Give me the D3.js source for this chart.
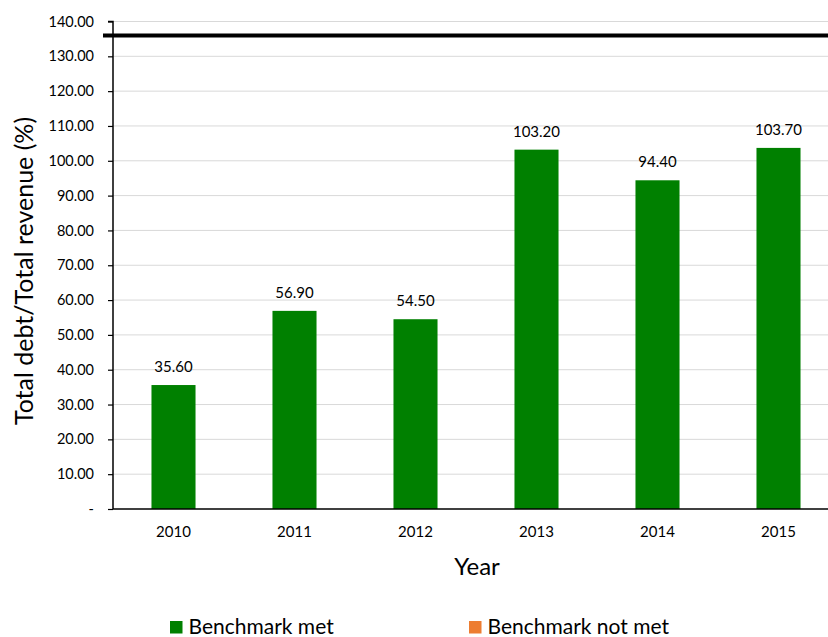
<!DOCTYPE html>
<html>
<head>
<meta charset="utf-8">
<script src="https://cdn.jsdelivr.net/npm/d3@7"></script>
<style>
  body { margin: 0; background: #fff; }
  svg { display: block; font-family: Lato, "Open Sans", sans-serif; }
</style>
</head>
<body>
<svg id="chart" width="828" height="637"></svg>
<script>
// Debt ratio by year
const years = ["2010", "2011", "2012", "2013", "2014", "2015"];
const ratios = [35.6, 56.9, 54.5, 103.2, 94.4, 103.7];
const benchmark = 136;
const yTicks = [0, 10, 20, 30, 40, 50, 60, 70, 80, 90, 100, 110, 120, 130, 140];
const legendItems = ["Benchmark met", "Benchmark not met"];
const legendColors = ["#008000", "#ED7D31"];

const svg = d3.select("#chart");
const plotLeft = 113, plotRight = 839, plotTop = 21.5, plotBottom = 509;

const x = d3.scaleBand().domain(years).range([plotLeft, plotRight]).paddingInner(0.636).paddingOuter(0.318);
const y = d3.scaleLinear().domain([0, 140]).range([plotBottom, plotTop]);

// gridlines
svg.append("g")
  .selectAll("line")
  .data(yTicks.filter(d => d > 0))
  .join("line")
  .attr("x1", plotLeft).attr("x2", 828)
  .attr("y1", d => y(d)).attr("y2", d => y(d))
  .attr("stroke", "#d9d9d9").attr("stroke-width", 1);

// bars
svg.append("g")
  .selectAll("rect")
  .data(years)
  .join("rect")
  .attr("x", d => x(d))
  .attr("width", x.bandwidth())
  .attr("y", (d, i) => y(ratios[i]))
  .attr("height", (d, i) => y(0) - y(ratios[i]))
  .attr("fill", "#008000");

// value labels
svg.append("g")
  .selectAll("text")
  .data(years)
  .join("text")
  .attr("x", d => x(d) + x.bandwidth() / 2)
  .attr("y", (d, i) => y(ratios[i]) - 13)
  .attr("text-anchor", "middle")
  .attr("font-size", 15)
  .attr("fill", "#000")
  .text((d, i) => ratios[i].toFixed(2));

// y axis
const yAxis = d3.axisLeft(y).tickValues(yTicks).tickSize(5).tickPadding(14)
  .tickFormat(d => d === 0 ? "-" : d.toFixed(2));
const gy = svg.append("g").attr("transform", `translate(${plotLeft},0)`).call(yAxis);
gy.select(".domain").attr("stroke", "#000").attr("stroke-width", 1.5).attr("d", `M-5,${plotTop}H0V${plotBottom}`);
gy.selectAll(".tick line").attr("stroke", "#000").attr("stroke-width", 1.2);
gy.selectAll(".tick text").attr("font-size", 14.5).attr("fill", "#000").attr("font-family", "Lato, sans-serif");

// x axis
const xAxis = d3.axisBottom(x).tickSize(0).tickPadding(17);
const gx = svg.append("g").attr("transform", `translate(0,${plotBottom})`).call(xAxis);
gx.select(".domain").attr("stroke", "#000").attr("stroke-width", 1.5).attr("d", `M${plotLeft},0H828`);
gx.selectAll(".tick text").attr("font-size", 15).attr("fill", "#000").attr("font-family", "Lato, sans-serif");

// benchmark line
svg.append("line")
  .attr("x1", 103).attr("x2", 828)
  .attr("y1", y(benchmark)).attr("y2", y(benchmark))
  .attr("stroke", "#000").attr("stroke-width", 4);

// axis titles
svg.append("text")
  .attr("transform", "translate(33,271) rotate(-90)")
  .attr("text-anchor", "middle")
  .attr("font-size", 25)
  .text("Total debt/Total revenue (%)");

svg.append("text")
  .attr("x", 477).attr("y", 575)
  .attr("text-anchor", "middle")
  .attr("font-size", 24)
  .text("Year");

// legend
const legendX = [170, 469];
const lg = svg.append("g").selectAll("g").data(legendItems).join("g")
  .attr("transform", (d, i) => `translate(${legendX[i]},621)`);
lg.append("rect").attr("width", 12.5).attr("height", 12.5).attr("fill", (d, i) => legendColors[i]);
lg.append("text").attr("x", 18.5).attr("y", 13).attr("font-size", 21).text(d => d);
</script>
</body>
</html>
